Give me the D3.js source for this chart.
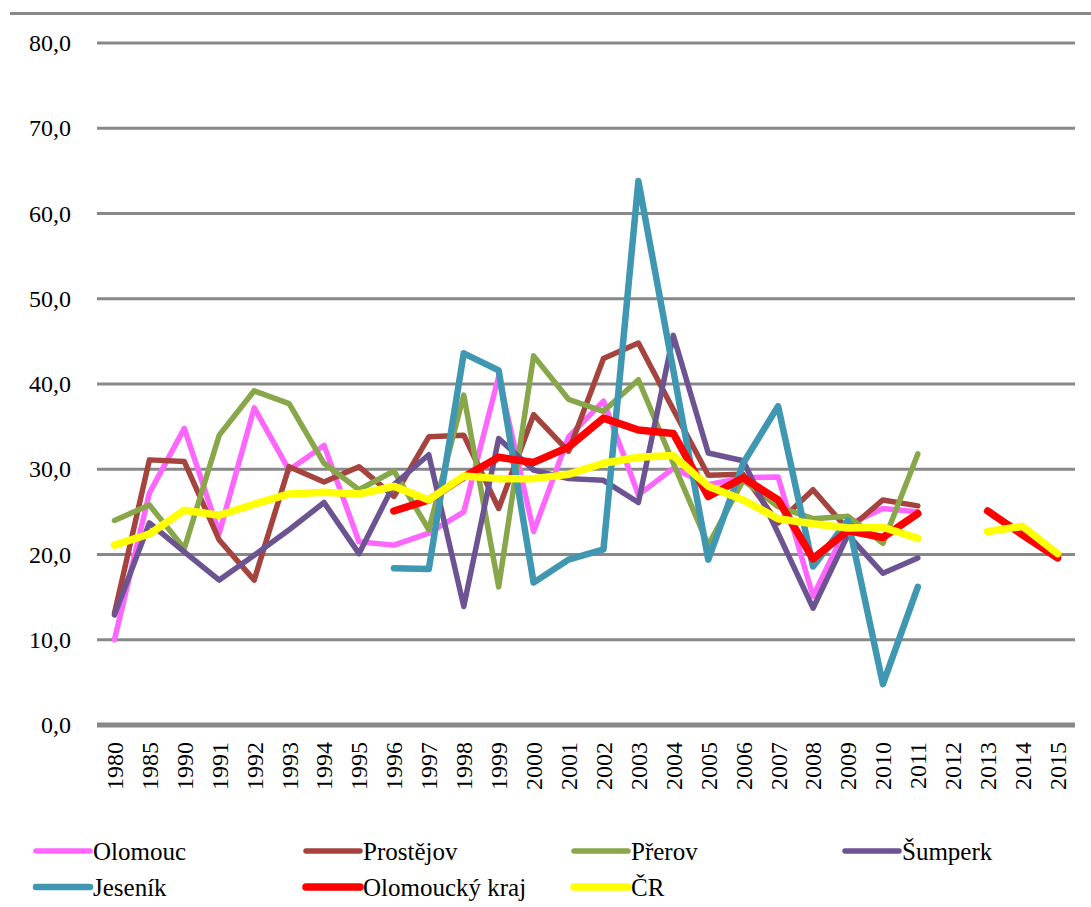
<!DOCTYPE html>
<html>
<head>
<meta charset="utf-8">
<script src="https://cdn.jsdelivr.net/npm/d3@7"></script>
<style>
  html, body { margin: 0; padding: 0; background: #fff; }
  svg { display: block; }
  svg text { font-family: "Liberation Serif", "Times New Roman", Tinos, "DejaVu Serif", serif !important; fill: #000; }
</style>
</head>
<body>
<svg id="chart" width="1091" height="907"></svg>
<script>
const categories = ["1980","1985","1990","1991","1992","1993","1994","1995","1996","1997","1998","1999","2000","2001","2002","2003","2004","2005","2006","2007","2008","2009","2010","2011","2012","2013","2014","2015"];
const yTicks = [0,10,20,30,40,50,60,70,80];

const olomouc   = [10.0,27.2,34.8,22.5,37.2,29.9,32.8,21.5,21.1,22.5,25.0,40.9,22.7,33.8,38.0,27.0,30.1,28.2,29.0,29.1,15.1,23.5,25.4,25.0,null,null,null,null];
const prostejov = [13.1,31.1,30.9,21.7,17.0,30.3,28.5,30.3,26.8,33.8,34.0,25.4,36.4,32.1,43.0,44.8,37.0,29.3,29.4,23.7,27.6,22.9,26.4,25.7,null,null,null,null];
const prerov    = [24.0,25.8,20.7,34.0,39.2,37.7,30.7,27.6,29.8,22.9,38.7,16.2,43.3,38.2,36.8,40.5,30.7,21.1,28.7,25.6,24.2,24.5,21.3,31.8,null,null,null,null];
const sumperk   = [12.9,23.7,20.3,17.0,19.9,22.9,26.1,20.1,28.2,31.7,13.9,33.6,29.9,28.9,28.7,26.1,45.7,31.9,31.0,22.5,13.7,22.3,17.8,19.6,null,null,null,null];
const jesenik   = [null,null,null,null,null,null,null,null,18.4,18.3,43.6,41.6,16.7,19.4,20.6,63.8,41.6,19.4,30.7,37.4,18.6,24.0,4.8,16.2,null,null,null,null];
const olKraj    = [null,null,null,null,null,null,null,null,25.1,26.4,29.1,31.4,30.8,32.6,36.0,34.6,34.2,26.8,29.0,26.4,19.5,22.8,22.0,24.8,null,25.1,22.3,19.6];
const cr        = [21.1,22.4,25.2,24.6,25.9,27.1,27.3,27.1,28.0,26.4,29.2,28.9,28.9,29.4,30.7,31.4,31.6,28.0,26.4,24.2,23.6,23.1,23.2,21.9,null,22.7,23.3,20.1];

const seriesNames  = ["Olomouc","Prostějov","Přerov","Šumperk","Jeseník","Olomoucký kraj","ČR"];
const seriesValues = [olomouc, prostejov, prerov, sumperk, jesenik, olKraj, cr];
const seriesColors = ["#FF66FF","#A5443F","#88A64A","#6C5392","#4097B2","#FF0000","#FFFF00"];
const seriesWidths = [5.5,5.5,5.5,5.5,6.5,7.5,7.5];

const FONT = "'Liberation Serif', 'Times New Roman', Tinos, 'DejaVu Serif', serif";

const svg = d3.select("#chart");

const x = d3.scaleBand().domain(categories).range([97, 1075]).padding(0);
const y = d3.scaleLinear().domain([0, 80]).range([725, 43]);

// top border line
svg.append("line")
  .attr("x1", 10).attr("x2", 1091).attr("y1", 13.5).attr("y2", 13.5)
  .attr("stroke", "#888").attr("stroke-width", 3);

// gridlines
svg.append("g").selectAll("line").data(yTicks.filter(d => d > 0)).join("line")
  .attr("x1", 97).attr("x2", 1075)
  .attr("y1", d => y(d)).attr("y2", d => y(d))
  .attr("stroke", "#888").attr("stroke-width", 3);

// y axis labels
const yAxis = d3.axisLeft(y).tickValues(yTicks).tickSize(0).tickPadding(0)
  .tickFormat(d => d3.format(".1f")(d).replace(".", ","));
const gy = svg.append("g").attr("transform", "translate(71,0)").call(yAxis);
gy.attr("font-family", null).attr("font-size", null);
gy.select(".domain").remove();
gy.selectAll("text").attr("font-size", 24).style("font-family", FONT).attr("fill", "#000");

// x axis
const xAxis = d3.axisBottom(x).tickSize(0).tickPadding(0);
const gx = svg.append("g").attr("transform", "translate(0,725)").call(xAxis);
gx.attr("font-family", null).attr("font-size", null);
gx.select(".domain").remove();
gx.selectAll("text")
  .attr("font-size", 24).style("font-family", FONT).attr("fill", "#000")
  .attr("transform", "rotate(-90)")
  .attr("text-anchor", "end")
  .attr("x", -17).attr("y", 0).attr("dy", "0.35em");

// series lines
const line = d3.line()
  .defined(d => d.v != null)
  .x(d => x(d.c) + x.bandwidth() / 2)
  .y(d => y(d.v));

seriesValues.forEach((vals, i) => {
  const pts = categories.map((c, j) => ({ c: c, v: vals[j] }));
  svg.append("path")
    .datum(pts)
    .attr("d", line)
    .attr("fill", "none")
    .attr("stroke", seriesColors[i])
    .attr("stroke-width", seriesWidths[i])
    .attr("stroke-linejoin", "round")
    .attr("stroke-linecap", "round");
});

// zero axis line
svg.append("line")
  .attr("x1", 97).attr("x2", 1075).attr("y1", y(0)).attr("y2", y(0))
  .attr("stroke", "#888").attr("stroke-width", 5);

// legend
const legendX = [36, 306, 574, 845];
const legendY = [851, 887];
const lg = svg.append("g");
seriesNames.forEach((name, i) => {
  const col = i % 4, row = Math.floor(i / 4);
  const gx0 = legendX[col], gy0 = legendY[row];
  lg.append("line")
    .attr("x1", gx0).attr("x2", gx0 + 54)
    .attr("y1", gy0).attr("y2", gy0)
    .attr("stroke", seriesColors[i]).attr("stroke-width", seriesWidths[i])
    .attr("stroke-linecap", "round");
  lg.append("text")
    .attr("x", gx0 + 57).attr("y", gy0).attr("dy", "0.35em")
    .attr("font-size", 25)
    .style("font-family", FONT)
    .text(name);
});
</script>
</body>
</html>
